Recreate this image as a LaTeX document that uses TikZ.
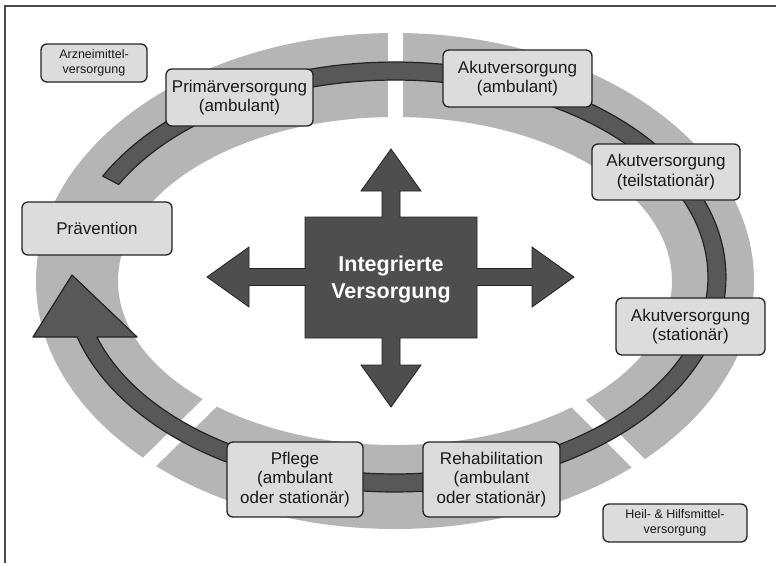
\documentclass[tikz,border=0pt]{standalone}
\usepackage{fontspec}
\setmainfont{Liberation Sans}
\definecolor{ringgray}{RGB}{181,181,181}
\definecolor{boxgray}{RGB}{220,220,220}
\definecolor{bandgray}{RGB}{88,88,88}
\definecolor{crossgray}{RGB}{78,78,78}
\definecolor{edgecol}{RGB}{35,35,35}
\begin{document}
\begin{tikzpicture}[x=1pt,y=-1pt,
  stage/.style={draw=edgecol,fill=boxgray,line width=1.3pt,rounded corners=6pt,
    align=center,inner sep=0pt,text=black!90,
    font=\fontsize{17}{19.5}\selectfont},
  smallstage/.style={stage,font=\fontsize{12.5}{15.5}\selectfont},
  gapline/.style={white,line width=15pt},
  bandstyle/.style={fill=bandgray,draw=edgecol,line width=1.2pt,line join=round},
  crossstyle/.style={fill=crossgray,draw=edgecol,line width=0.8pt}]
\useasboundingbox (0,0) rectangle (776,563);
\fill[white] (0,0) rectangle (776,563);
% frame
\draw[black!70,line width=1.5pt] (5,563) -- (5,6) -- (776,6);
% light ring
\fill[ringgray,even odd rule] (395,281) ellipse (359pt and 248pt) (395,281) ellipse (277pt and 164pt);
% gaps in ring
\draw[gapline] (395,20) -- (395,130);
\draw[gapline] (228,385) -- (128,483);
\draw[gapline] (558,383) -- (658,483);
% dark band with arrow head
\filldraw[bandstyle]
  plot[domain=152:-163.8,samples=150] ({395+331*cos(\x)},{277-215*sin(\x)})
  -- (33,337) -- (72,275) -- (137,337)
  -- plot[domain=-162.3:152,samples=150] ({395+313*cos(\x)},{277-197*sin(\x)})
  -- cycle;
% central cross
\filldraw[crossstyle] (305,217) -- (382,217) -- (382,191) -- (361,191) -- (391,149)
  -- (421,191) -- (400,191) -- (400,217) -- (477,217) -- (477,268.5) -- (532,268.5)
  -- (532,247) -- (574,277) -- (532,307) -- (532,285.5) -- (477,285.5) -- (477,338)
  -- (400,338) -- (400,365) -- (421,365) -- (391,407) -- (361,365) -- (382,365)
  -- (382,338) -- (305,338) -- (305,285.5) -- (249,285.5) -- (249,307) -- (207,277)
  -- (249,247) -- (249,268.5) -- (305,268.5) -- cycle;
\node[text=white,align=center,font=\bfseries\fontsize{21.5}{27}\selectfont] (iv) at (391,279) {Integrierte\\Versorgung};
% boxes
\node[smallstage,minimum width=106pt,minimum height=38pt] (arz) at (94,63) {Arzneimittel-\\versorgung};
\node[stage,minimum width=147pt,minimum height=57pt] (prim) at (239.5,97.5) {Primärversorgung\\(ambulant)};
\node[stage,minimum width=149pt,minimum height=57pt] (akamb) at (517.5,78.5) {Akutversorgung\\(ambulant)};
\node[stage,minimum width=148pt,minimum height=56pt] (akteil) at (666,172) {Akutversorgung\\(teilstationär)};
\node[stage,minimum width=150pt,minimum height=53pt] (praev) at (97,228.5) {Prävention};
\node[stage,minimum width=149pt,minimum height=57pt] (akstat) at (690.5,326.5) {Akutversorgung\\(stationär)};
\node[stage,minimum width=136pt,minimum height=75pt] (pflege) at (295,479.5) {Pflege\\(ambulant\\oder stationär)};
\node[stage,minimum width=137pt,minimum height=75pt] (reha) at (491.5,479.5) {Rehabilitation\\(ambulant\\oder stationär)};
\node[smallstage,minimum width=144pt,minimum height=38pt] (heil) at (675,523) {Heil- \& Hilfsmittel-\\versorgung};
\end{tikzpicture}
\end{document}
